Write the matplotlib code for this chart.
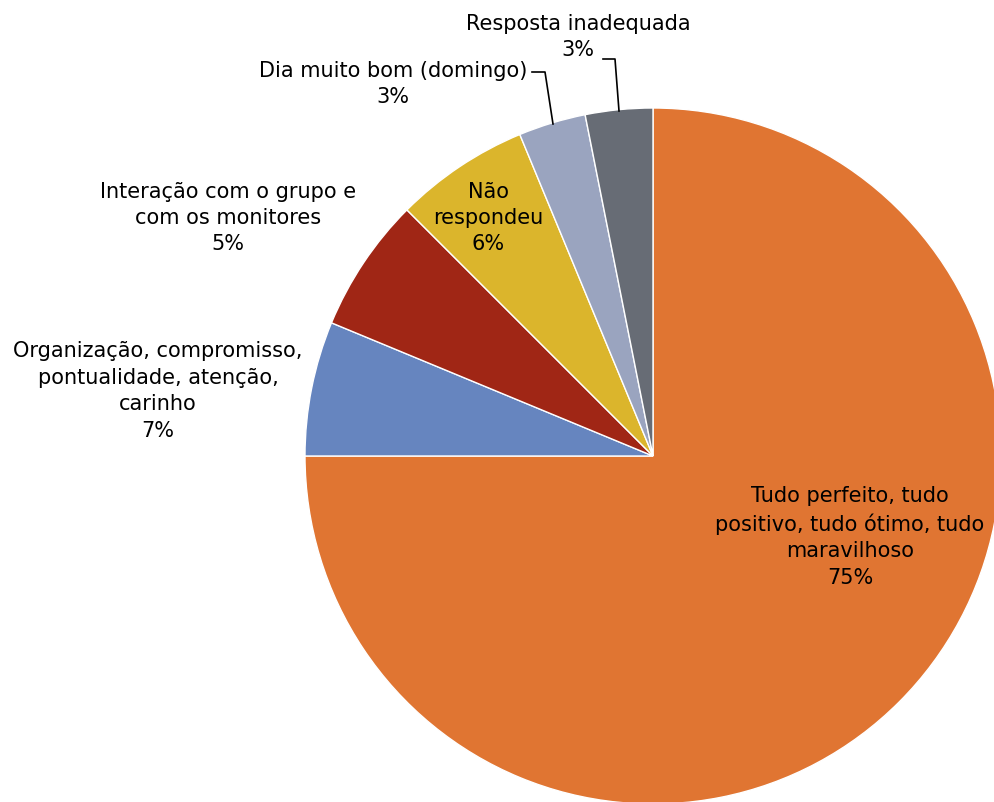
import matplotlib.pyplot as plt

# =============================
# DATA
# =============================
categories = [
    "Tudo perfeito, tudo\npositivo, tudo ótimo, tudo\nmaravilhoso",
    "Organização, compromisso,\npontualidade, atenção,\ncarinho",
    "Interação com o grupo e\ncom os monitores",
    "Não\nrespondeu",
    "Dia muito bom (domingo)",
    "Resposta inadequada",
]
counts = [24, 2, 2, 2, 1, 1]
pct_labels = ["75%", "7%", "5%", "6%", "3%", "3%"]
colors = ["#E07532", "#6685BF", "#A02615", "#DBB52C", "#9AA4BF", "#676C75"]

# =============================
# LAYOUT (pixel based, center of pie = origin)
# =============================
W, H = 994, 803
CX, CY = 653, 457
R = 348

fig = plt.figure(figsize=(W / 100, H / 100), dpi=100)
ax = fig.add_axes([0, 0, 1, 1])

ax.pie(counts, colors=colors, startangle=90, counterclock=False, radius=R,
       wedgeprops=dict(edgecolor="white", linewidth=1.0))

# pie resets the limits, so set them afterwards
ax.set_xlim(-CX, W - CX)
ax.set_ylim(-(H - CY), CY)
ax.set_aspect("equal")
ax.axis("off")


def px(x, y):
    return x - CX, CY - y


FONT = "DejaVu Sans"
FS = 15
label_pos = [(850, 537), (158, 391), (228, 218), (488, 218), (393, 84), (578, 37)]

for name, pct, (x, y) in zip(categories, pct_labels, label_pos):
    tx, ty = px(x, y)
    ax.text(tx, ty, f"{name}\n{pct}", ha="center", va="center", fontsize=FS,
            family=FONT, color="black", linespacing=1.4)

# leader lines
lines = [
    [(532, 73), (545, 73), (553, 125)],
    [(603, 60), (615, 60), (619, 112)],
]
for pts in lines:
    xs, ys = zip(*[px(a, b) for a, b in pts])
    ax.plot(xs, ys, color="black", linewidth=1.2)

plt.savefig("out.png", dpi=100)
